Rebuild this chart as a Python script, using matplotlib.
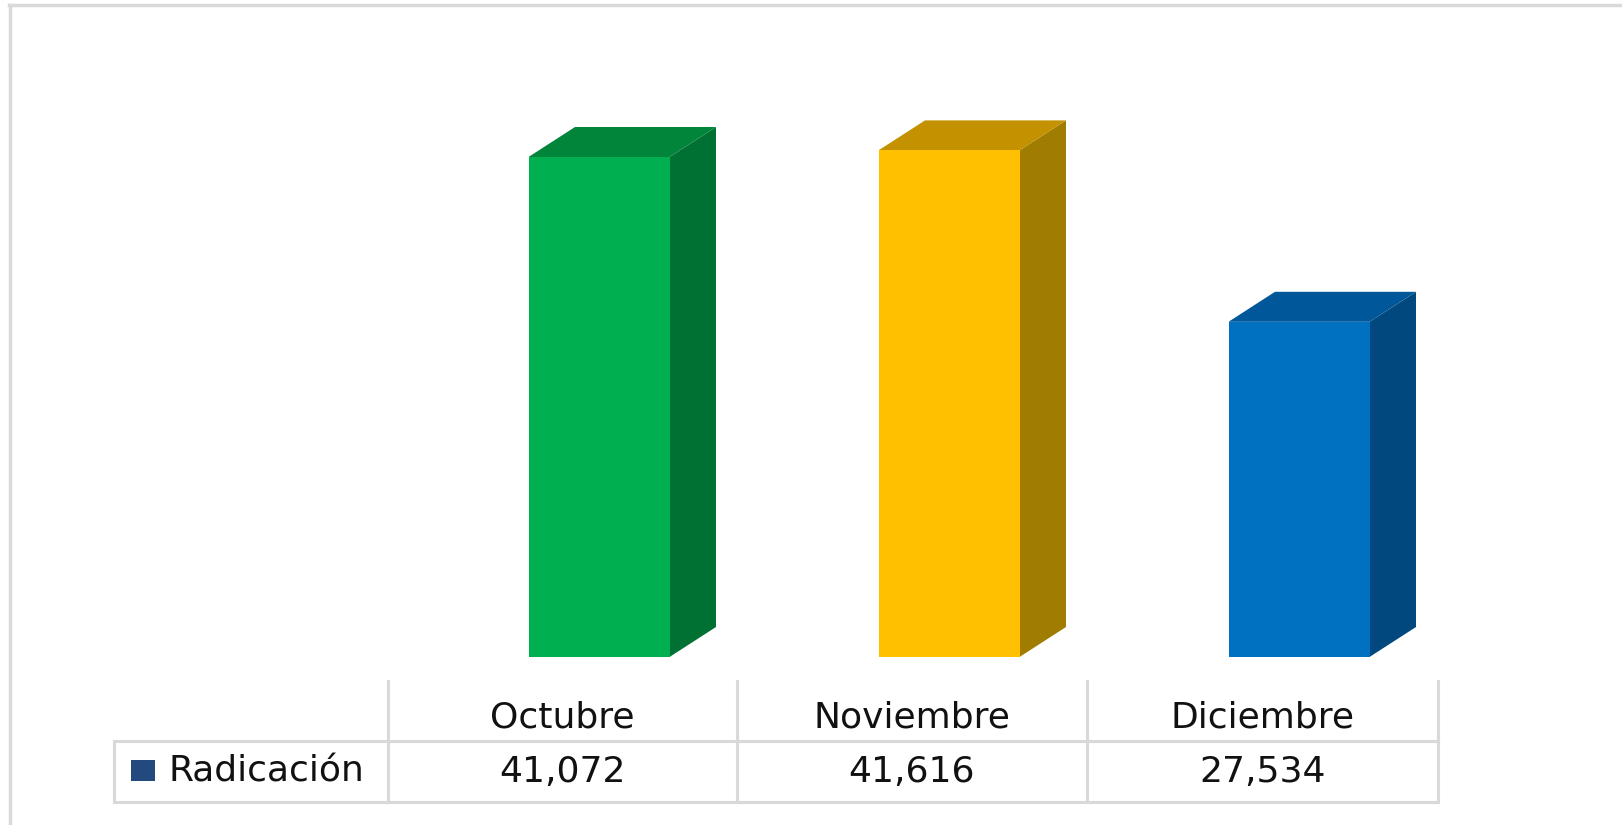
import matplotlib
matplotlib.use("Agg")
import matplotlib.pyplot as plt
from matplotlib.patches import Polygon, Rectangle
from matplotlib.lines import Line2D

# ---- data ----
categories = ["Octubre", "Noviembre", "Diciembre"]
values = [41072, 41616, 27534]
series_name = "Radicación"
value_labels = ["41,072", "41,616", "27,534"]

front_colors = ["#00B050", "#FFC000", "#0070C0"]
top_colors = ["#00853A", "#C49200", "#00589A"]
side_colors = ["#007033", "#A07C00", "#00487E"]
legend_color = "#234A7E"

W, H = 1622, 825
DPI = 100
fig = plt.figure(figsize=(W / DPI, H / DPI), dpi=DPI)

# main axes spanning whole figure; categories at 0,1,2 ; 1 unit = 350 px
px_per_cat = 350.0
x0_px = 562.0                      # pixel of category 0 center
px_per_val = 500.0 / 41072.0
base_px = 657.0                    # pixel (from top) of value 0
ax = fig.add_axes([0, 0, 1, 1])
ax.set_xlim(-x0_px / px_per_cat, (W - x0_px) / px_per_cat)
ax.set_ylim((base_px - H) / px_per_val, base_px / px_per_val)
ax.axis("off")

off = 37.0 / px_per_cat
hw = 70.5 / px_per_cat
ddx = 46.5 / px_per_cat
ddy = 30.0 / px_per_val

for i, v in enumerate(values):
    l = i + off - hw
    r = i + off + hw
    # side face
    ax.add_patch(Polygon([(r, 0), (r + ddx, ddy), (r + ddx, v + ddy), (r, v)],
                         closed=True, facecolor=side_colors[i], edgecolor="none"))
    # top face
    ax.add_patch(Polygon([(l, v), (r, v), (r + ddx, v + ddy), (l + ddx, v + ddy)],
                         closed=True, facecolor=top_colors[i], edgecolor="none"))
    # front face
    ax.add_patch(Rectangle((l, 0), r - l, v, facecolor=front_colors[i], edgecolor="none"))

# ---- table & frame in pixel coordinates (origin top-left) ----
def P(x, y):
    return (x / W, 1 - y / H)

grid_c = "#D9D9D9"
def hline(x1, x2, y, lw=2.2):
    fig.add_artist(Line2D([x1 / W, x2 / W], [1 - y / H, 1 - y / H], color=grid_c, lw=lw,
                          transform=fig.transFigure))
def vline(x, y1, y2, lw=2.2):
    fig.add_artist(Line2D([x / W, x / W], [1 - y1 / H, 1 - y2 / H], color=grid_c, lw=lw,
                          transform=fig.transFigure))

# outer frame (top and left visible only)
hline(9, W, 5, lw=2.5)
vline(10, 5, H, lw=2.5)

col_x = [388, 737, 1087, 1438]
tab_left = 114
row_top, row_mid, row_bot = 681, 741, 802
for x in col_x:
    vline(x, row_top, row_bot)
vline(tab_left, row_mid, row_bot)
hline(tab_left, col_x[-1], row_mid)
hline(tab_left, col_x[-1], row_bot)

font = dict(family="DejaVu Sans", fontsize=26, color="#111111")
for i, c in enumerate(categories):
    cx = (col_x[i] + col_x[i + 1]) / 2
    fig.text(*P(cx, 718), c, ha="center", va="center", **font)
    fig.text(*P(cx, 772), value_labels[i], ha="center", va="center", **font)

fig.text(*P(169, 772), series_name, ha="left", va="center", **font)
fig.add_artist(Rectangle(P(131, 781), 24 / W, 21 / H, facecolor=legend_color,
                         edgecolor="none", transform=fig.transFigure))

fig.savefig("out.png", dpi=DPI)
